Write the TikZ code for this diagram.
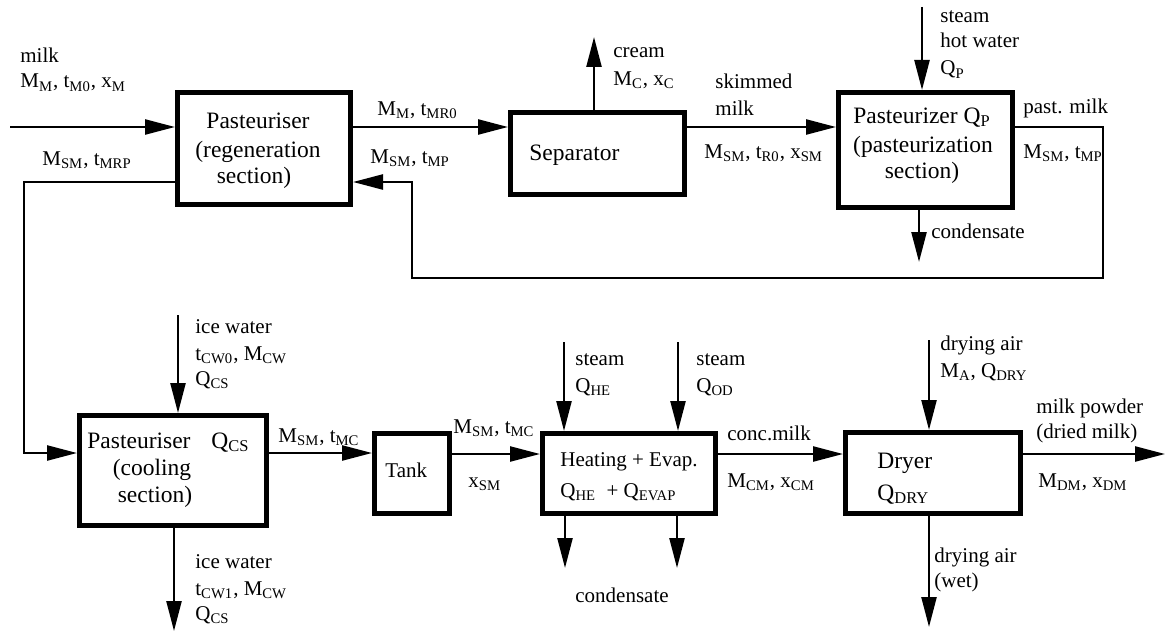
\documentclass[tikz,border=0pt]{standalone}
\usepackage{fontspec}
\setmainfont{Liberation Serif}
\usetikzlibrary{arrows.meta}
\newcommand\ssub[1]{\textsubscript{#1}}
\begin{document}
\begin{tikzpicture}[x=0.5pt,y=-0.5pt,
  box/.style={draw,line width=2.5pt,inner sep=0pt,outer sep=1.25pt},
  flow/.style={line width=1.2pt,-{Triangle[length=15pt,width=7.5pt]}},
  line/.style={line width=1.2pt},
  lbl/.style={font=\fontsize{10.5}{12}\selectfont,inner sep=0pt,anchor=base west},
  btxt/.style={font=\fontsize{11.75}{14}\selectfont,inner sep=0pt,anchor=base},
  btxtw/.style={font=\fontsize{11.75}{14}\selectfont,inner sep=0pt,anchor=base west},
  stxtw/.style={font=\fontsize{10.5}{12}\selectfont,inner sep=0pt,anchor=base west}]
\useasboundingbox[fill=white] (0,0) rectangle (1165,631);

% boxes
\node[box,minimum width=86.5pt,minimum height=56pt] (reg) at (264,148.5) {};
\node[box,minimum width=87pt,minimum height=41pt] (sep) at (597.5,153.5) {};
\node[box,minimum width=87pt,minimum height=57.5pt] (past) at (925.5,150) {};
\node[box,minimum width=93.5pt,minimum height=55pt] (cool) at (173,470.5) {};
\node[box,minimum width=37.5pt,minimum height=40pt] (tank) at (412,473.5) {};
\node[box,minimum width=86.5pt,minimum height=40pt] (heat) at (629,473.5) {};
\node[box,minimum width=87.5pt,minimum height=40.5pt] (dryer) at (933,473) {};

% box texts
\node[btxt] (reg1) at (258,128) {Pasteuriser};
\node[btxt] (reg2) at (258,157) {(regeneration};
\node[btxt] (reg3) at (254,183) {section)};
\node[btxtw] (sept) at (529,160) {Separator};
\node[btxt] (past1) at (922,123) {Pasteurizer Q\ssub{P}};
\node[btxt] (past2) at (923,152) {(pasteurization};
\node[btxt] (past3) at (922,178) {section)};
\node[btxtw] (cool1) at (87,448) {Pasteuriser};
\node[btxtw] (cool1q) at (211,448) {Q\ssub{CS}};
\node[btxt] (cool2) at (152,475) {(cooling};
\node[btxt] (cool3) at (155,502) {section)};
\node[stxtw] (tankt) at (385,477) {Tank};
\node[stxtw] (heat1) at (560,466) {Heating + Evap.};
\node[stxtw] (heat2) at (560,497) {Q\ssub{HE}\ \ + Q\ssub{EVAP}};
\node[btxtw] (dry1) at (877,468) {Dryer};
\node[btxtw] (dry2) at (877,500) {Q\ssub{DRY}};

% row coordinates
\coordinate (r1) at (0,127);
\coordinate (r2) at (0,182);
\coordinate (r3) at (0,453);
\coordinate (milkin) at (10,127);
\coordinate (lpA) at (1103,127);
\coordinate (lpB) at (412,278);
\coordinate (retL) at (24,182);
\coordinate (creamend) at (594,37);
\coordinate (steamP) at (922,7);
\coordinate (condP) at (919,262);
\coordinate (iceIn) at (178,315);
\coordinate (iceOut) at (174,631);
\coordinate (stH1) at (564,342);
\coordinate (stH2) at (678,342);
\coordinate (cdH1) at (565,568);
\coordinate (cdH2) at (677,568);
\coordinate (airIn) at (929,340);
\coordinate (airOut) at (929,627);
\coordinate (powder) at (1165,454);

% connectors
\draw[flow] (milkin) -- (milkin -| reg.west);
\draw[flow] (r1 -| reg.east) -- (r1 -| sep.west);
\draw[flow] (r1 -| sep.east) -- (r1 -| past.west);
\draw[flow] (r1 -| past.east) -- (lpA) |- (lpB) |- (r2 -| reg.east);
\draw[flow] (r2 -| reg.west) -- (retL) |- (r3 -| cool.west);
\draw[flow] (creamend |- sep.north) -- (creamend);
\draw[flow] (steamP) -- (steamP |- past.north);
\draw[flow] (condP |- past.south) -- (condP);
\draw[flow] (iceIn) -- (iceIn |- cool.north);
\draw[flow] (iceOut |- cool.south) -- (iceOut);
\draw[flow] (r3 -| cool.east) -- (r3 -| tank.west);
\draw[flow] (powder -| tank.east) -- (powder -| heat.west);
\draw[flow] (stH1) -- (stH1 |- heat.north);
\draw[flow] (stH2) -- (stH2 |- heat.north);
\draw[flow] (cdH1 |- heat.south) -- (cdH1);
\draw[flow] (cdH2 |- heat.south) -- (cdH2);
\draw[flow] (powder -| heat.east) -- (powder -| dryer.west);
\draw[flow] (airIn) -- (airIn |- dryer.north);
\draw[flow] (airOut |- dryer.south) -- (airOut);
\draw[flow] (powder -| dryer.east) -- (powder);

% labels
\node[lbl] (l1) at (20,63) {milk};
\node[lbl] (l2) at (20,88) {M\ssub{M}, t\ssub{M0}, x\ssub{M}};
\node[lbl] (l3) at (42,165) {M\ssub{SM}, t\ssub{MRP}};
\node[lbl] (l4) at (377,115) {M\ssub{M}, t\ssub{MR0}};
\node[lbl] (l5) at (370,163) {M\ssub{SM}, t\ssub{MP}};
\node[lbl] (l6) at (613,58) {cream};
\node[lbl] (l7) at (613,85) {M\ssub{C}, x\ssub{C}};
\node[lbl] (l8) at (715,89) {skimmed};
\node[lbl] (l9) at (715,115) {milk};
\node[lbl] (l10) at (704,158) {M\ssub{SM}, t\ssub{R0}, x\ssub{SM}};
\node[lbl] (l11) at (940,23) {steam};
\node[lbl] (l12) at (940,48) {hot water};
\node[lbl] (l13) at (940,75) {Q\ssub{P}};
\node[lbl] (l14) at (1023,113) {past. milk};
\node[lbl] (l15) at (1023,158) {M\ssub{SM}, t\ssub{MP}};
\node[lbl] (l16) at (931,238) {condensate};
\node[lbl] (l17) at (195,333) {ice water};
\node[lbl] (l18) at (195,360) {t\ssub{CW0}, M\ssub{CW}};
\node[lbl] (l19) at (195,385) {Q\ssub{CS}};
\node[lbl] (l20) at (195,568) {ice water};
\node[lbl] (l21) at (195,595) {t\ssub{CW1}, M\ssub{CW}};
\node[lbl] (l22) at (195,620) {Q\ssub{CS}};
\node[lbl] (l23) at (278,442) {M\ssub{SM}, t\ssub{MC}};
\node[lbl] (l24) at (453,433) {M\ssub{SM}, t\ssub{MC}};
\node[lbl] (l25) at (468,487) {x\ssub{SM}};
\node[lbl] (l26) at (575,365) {steam};
\node[lbl] (l27) at (575,392) {Q\ssub{HE}};
\node[lbl] (l28) at (696,365) {steam};
\node[lbl] (l29) at (696,392) {Q\ssub{OD}};
\node[lbl,anchor=base] (l30) at (622,602) {condensate};
\node[lbl] (l31) at (727,440) {conc.milk};
\node[lbl] (l32) at (727,487) {M\ssub{CM}, x\ssub{CM}};
\node[lbl] (l33) at (940,350) {drying air};
\node[lbl] (l34) at (940,377) {M\ssub{A}, Q\ssub{DRY}};
\node[lbl] (l35) at (1036,413) {milk powder};
\node[lbl] (l36) at (1036,438) {(dried milk)};
\node[lbl] (l37) at (1038,487) {M\ssub{DM}, x\ssub{DM}};
\node[lbl] (l38) at (934,562) {drying air};
\node[lbl] (l39) at (934,587) {(wet)};
\end{tikzpicture}
\end{document}
